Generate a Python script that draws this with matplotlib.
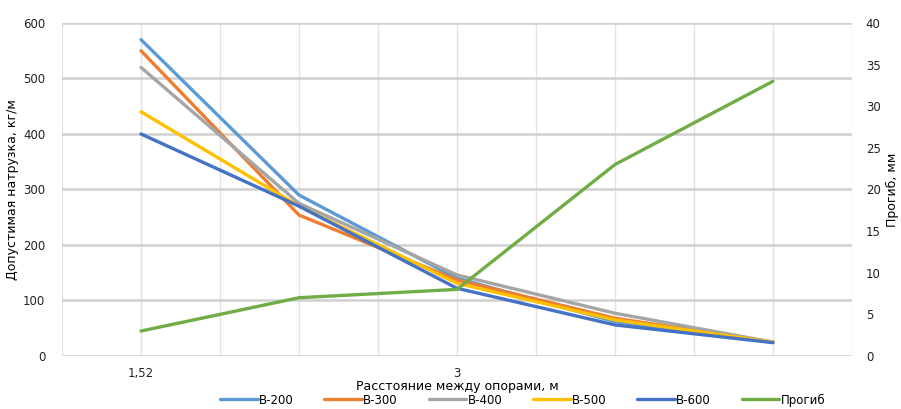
import numpy as np
import matplotlib.pyplot as plt

plt.rcParams['font.family'] = ['Liberation Sans Narrow', 'DejaVu Sans']

# data
x_labels = ["1,52", "", "3", "", ""]
b200 = [570, 290, 140, 62, 25]
b300 = [550, 254, 137, 68, 25]
b400 = [520, 275, 146, 77, 25]
b500 = [440, 270, 131, 65, 25]
b600 = [400, 270, 122, 56, 24]
progib = [3, 7, 8, 23, 33]

series = [("B-200", b200, '#5B9BD5'),
          ("B-300", b300, '#ED7D31'),
          ("B-400", b400, '#A5A5A5'),
          ("B-500", b500, '#FFC000'),
          ("B-600", b600, '#4472C4')]

fig = plt.figure(figsize=(9.01, 4.09), dpi=100)
ax = fig.add_axes([0.0688, 0.1296, 0.8768, 0.8142])
ax2 = ax.twinx()

idx = np.arange(len(b200))
handles = []
for name, vals, col in series:
    h, = ax.plot(idx, vals, color=col, lw=2.4, label=name, solid_capstyle='round')
    handles.append(h)
h, = ax2.plot(idx, progib, color='#70AD47', lw=2.4, label='Прогиб', solid_capstyle='round')
handles.append(h)

ax.set_xlim(-0.5, 4.5)
ax.set_ylim(0, 600)
ax2.set_ylim(0, 40)
ax.set_yticks(np.arange(0, 601, 100))
ax2.set_yticks(np.arange(0, 41, 5))
ax.set_xticks(idx)
ax.set_xticklabels(x_labels)

# gridlines
for xv in np.arange(-0.5, 4.51, 0.5):
    ax.axvline(xv, color='#e3e3e3', lw=1, zorder=0)
for yv in np.arange(100, 601, 100):
    ax.axhline(yv, color='#d0d0d0', lw=1.8, zorder=0)
ax.axhline(0, color='#d0d0d0', lw=1.8, zorder=0)

for a in (ax, ax2):
    for s in a.spines.values():
        s.set_visible(False)
    a.tick_params(length=0, labelsize=8.5, colors='#222222')
ax.tick_params(axis='y', pad=12)
ax.tick_params(axis='x', pad=8)
ax2.tick_params(axis='y', pad=10)

ax.set_ylabel('Допустимая натрузка, кг/м', fontsize=9, labelpad=3)
ax2.set_ylabel('Прогиб, мм', fontsize=9, labelpad=4)
ax.set_xlabel('Расстояние между опорами, м', fontsize=9, labelpad=0)

fig.legend(handles=handles, loc='lower center', ncol=6, frameon=False,
           fontsize=8.5, handlelength=3.2, handletextpad=0.1, columnspacing=2.6,
           bbox_to_anchor=(0.58, -0.02))

fig.savefig('out.png', dpi=100)
